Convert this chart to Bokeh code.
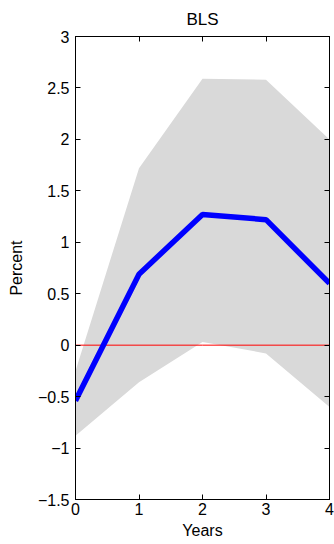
from bokeh.plotting import figure
from bokeh.models import LinearAxis, FixedTicker, Range1d
from bokeh.embed import file_html
from bokeh.resources import INLINE

years = [0, 1, 2, 3, 4]
response = [-0.54, 0.69, 1.27, 1.22, 0.60]
upper = [-0.25, 1.72, 2.59, 2.58, 2.00]
lower = [-0.88, -0.36, 0.03, -0.08, -0.60]
zero_line = [0, 0, 0, 0, 0]

x_ticks = [0, 1, 2, 3, 4]
y_ticks = [-1.5, -1, -0.5, 0, 0.5, 1, 1.5, 2, 2.5, 3]
y_tick_labels = ["\u22121.5", "\u22121", "\u22120.5", "0", "0.5", "1", "1.5", "2", "2.5", "3"]

FONT = "Liberation Sans"

p = figure(width=334, height=544, output_backend="svg", toolbar_location=None,
           x_range=Range1d(0, 4), y_range=Range1d(-1.5, 3),
           min_border_left=75, min_border_right=5, min_border_top=36, min_border_bottom=45,
           x_axis_label="Years", y_axis_label="Percent", title="BLS")
p.title.align = "center"
p.title.vertical_align = "top"
p.title.text_font = FONT
p.title.text_font_size = "17px"
p.title.text_font_style = "normal"
p.title.text_color = "black"
p.title.standoff = 12

p.xgrid.visible = False
p.ygrid.visible = False
p.outline_line_color = "black"
p.outline_line_width = 1
p.background_fill_color = "white"
p.border_fill_color = "white"

p.varea(x=years, y1=lower, y2=upper, fill_color="#d9d9d9", fill_alpha=1)
p.line(x=years, y=zero_line, line_color="#ff0000", line_width=1)
p.line(x=years, y=response, line_color="#0000ff", line_width=5.5)

def style(ax, labels=True):
    ax.major_tick_in = 5
    ax.major_tick_out = 0
    ax.minor_tick_in = 0
    ax.minor_tick_out = 0
    ax.axis_line_color = "black"
    ax.major_tick_line_color = "black"
    ax.major_label_text_font = FONT
    ax.major_label_text_font_size = "16px" if labels else "0px"
    ax.major_label_text_color = "black" if labels else None
    ax.axis_label_text_font = FONT
    ax.axis_label_text_font_size = "16px"
    ax.axis_label_text_font_style = "normal"
    ax.axis_label_text_color = "black"

for ax in p.xaxis:
    ax.ticker = FixedTicker(ticks=x_ticks)
    style(ax)
    ax.major_label_standoff = 3
    ax.axis_label_standoff = 4
for ax in p.yaxis:
    ax.ticker = FixedTicker(ticks=y_ticks)
    ax.major_label_overrides = {t: l for t, l in zip(y_ticks, y_tick_labels)}
    style(ax)
    ax.major_label_standoff = 6
    ax.axis_label_standoff = 10

right = LinearAxis(ticker=FixedTicker(ticks=y_ticks))
style(right, labels=False)
right.major_label_standoff = 0
p.add_layout(right, "right")
top = LinearAxis(ticker=FixedTicker(ticks=x_ticks))
style(top, labels=False)
top.major_label_standoff = 0
p.add_layout(top, "above")

open("out.html", "w").write(file_html(p, INLINE))
